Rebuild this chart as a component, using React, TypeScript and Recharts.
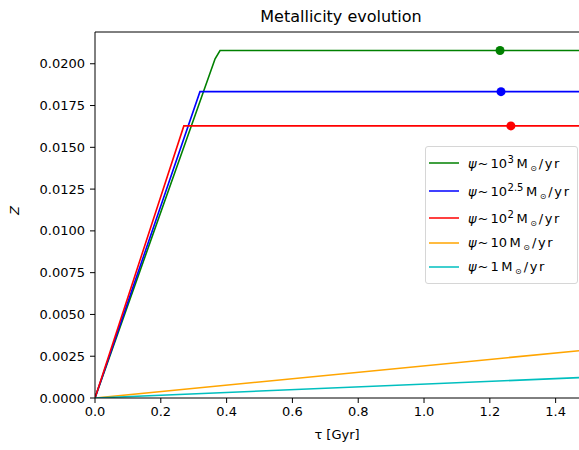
import React from "react";
import {
  LineChart,
  Line,
  XAxis,
  YAxis,
  ReferenceDot,
  ReferenceLine,
} from "recharts";

// tau [Gyr] and Z for each star-formation rate
const greenT = [0, 0.365, 0.38, 1.471];
const greenZ = [0, 0.0203, 0.02079, 0.02079];
const blueT = [0, 0.319, 1.471];
const blueZ = [0, 0.01833, 0.01833];
const redT = [0, 0.27, 1.471];
const redZ = [0, 0.01628, 0.01628];
const orangeT = [0, 1.471];
const orangeZ = [0, 0.00283];
const cyanT = [0, 1.471];
const cyanZ = [0, 0.00122];

// current-age markers
const greenMark = { t: 1.231, z: 0.02079 };
const blueMark = { t: 1.234, z: 0.01833 };
const redMark = { t: 1.264, z: 0.01628 };

const xTicks = [0, 0.2, 0.4, 0.6, 0.8, 1.0, 1.2, 1.4];
const yTicks = [0, 0.0025, 0.005, 0.0075, 0.01, 0.0125, 0.015, 0.0175, 0.02];

// legend: base of the power and its exponent
const legendBase = ["10", "10", "10", "10", "1"];
const legendExp = ["3", "2.5", "2", "", ""];
const rowHeights = [28, 28, 26, 24, 24];

const toRows = (t: number[], z: number[]) => t.map((v, i) => ({ t: v, z: z[i] }));

const series = [
  { name: "g", color: "#008000", data: toRows(greenT, greenZ) },
  { name: "b", color: "#0000ff", data: toRows(blueT, blueZ) },
  { name: "r", color: "#ff0000", data: toRows(redT, redZ) },
  { name: "o", color: "#ffa500", data: toRows(orangeT, orangeZ) },
  { name: "c", color: "#00bfbf", data: toRows(cyanT, cyanZ) },
];

const font = "DejaVu Sans, sans-serif";

function LegendBox() {
  return (
    <div
      style={{
        position: "absolute",
        left: 425,
        top: 146,
        width: 153,
        boxSizing: "border-box",
        border: "1px solid #d6d6d6",
        borderRadius: 3,
        background: "rgba(255,255,255,0.8)",
        paddingTop: 2,
        paddingBottom: 4,
        fontFamily: font,
        fontSize: 13,
        color: "#000",
      }}
    >
      {series.map((s, i) => (
        <div
          key={s.name}
          style={{ height: rowHeights[i], display: "flex", alignItems: "center" }}
        >
          <svg width={42} height={4} style={{ flex: "none" }}>
            <line x1={3} x2={33} y1={2} y2={2} stroke={s.color} strokeWidth={1.5} />
          </svg>
          <span style={{ whiteSpace: "nowrap" }}>
            <i>ψ</i>
            <span style={{ marginLeft: 1 }}>~</span>
            <span style={{ marginLeft: 2 }}>{legendBase[i]}</span>
            {legendExp[i] && (
              <sup style={{ fontSize: 10, verticalAlign: 5, marginLeft: 0.5 }}>
                {legendExp[i]}
              </sup>
            )}
            <span style={{ marginLeft: 2.5 }}>M</span>
            <sub style={{ fontSize: 8, verticalAlign: -3, marginLeft: 2.5 }}>⊙</sub>
            <span style={{ marginLeft: 2, letterSpacing: 1.6 }}>/yr</span>
          </span>
        </div>
      ))}
    </div>
  );
}

export default function App() {
  return (
    <div
      style={{
        position: "absolute",
        left: 0,
        top: 0,
        width: 579,
        height: 450,
        overflow: "hidden",
        background: "#fff",
        fontFamily: font,
      }}
    >
      <div
        style={{
          position: "absolute",
          left: 95,
          width: 492,
          top: 7,
          textAlign: "center",
          fontSize: 16,
          color: "#000",
        }}
      >
        Metallicity evolution
      </div>
      <LineChart
        width={579}
        height={450}
        margin={{ top: 32, right: 0, bottom: 0, left: 0 }}
      >
        <XAxis
          dataKey="t"
          type="number"
          domain={[0, 1.471]}
          allowDataOverflow
          ticks={xTicks}
          tickFormatter={(v: number) => v.toFixed(1)}
          tick={{ fill: "#000", fontSize: 13, fontFamily: font }}
          tickSize={5}
          tickMargin={4}
          stroke="#000"
          height={52}
          label={{
            value: "τ [Gyr]",
            position: "insideBottom",
            offset: 11,
            fill: "#000",
            fontSize: 13,
            fontFamily: font,
          }}
        />
        <YAxis
          type="number"
          domain={[0, 0.0219]}
          allowDataOverflow
          ticks={yTicks}
          tickFormatter={(v: number) => v.toFixed(4)}
          tick={{ fill: "#000", fontSize: 13, fontFamily: font }}
          tickSize={5}
          tickMargin={5}
          stroke="#000"
          width={95}
          label={{
            value: "Z",
            angle: -90,
            position: "insideLeft",
            offset: 14,
            fill: "#000",
            fontSize: 13,
            fontFamily: font,
            fontStyle: "italic",
          }}
        />
        <ReferenceLine y={0.0219} stroke="#000" strokeWidth={1} />
        {series.map((s) => (
          <Line
            key={s.name}
            data={s.data}
            dataKey="z"
            name={s.name}
            stroke={s.color}
            strokeWidth={1.6}
            dot={false}
            type="linear"
            isAnimationActive={false}
          />
        ))}
        <ReferenceDot x={greenMark.t} y={greenMark.z} r={4.5} fill="#008000" stroke="none" />
        <ReferenceDot x={blueMark.t} y={blueMark.z} r={4.5} fill="#0000ff" stroke="none" />
        <ReferenceDot x={redMark.t} y={redMark.z} r={4.5} fill="#ff0000" stroke="none" />
      </LineChart>
      <LegendBox />
    </div>
  );
}
